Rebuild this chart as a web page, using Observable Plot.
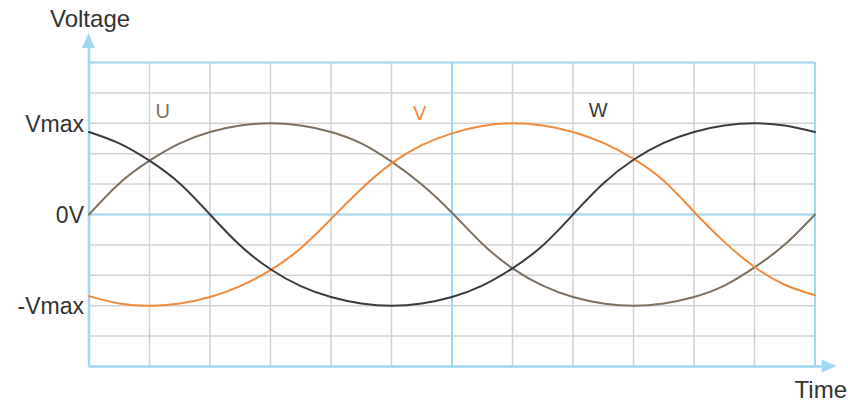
<!DOCTYPE html>
<html>
<head>
<meta charset="utf-8">
<script src="https://cdn.jsdelivr.net/npm/d3@7"></script>
<script src="https://cdn.jsdelivr.net/npm/@observablehq/plot@0.6"></script>
<style>
  html, body { margin: 0; padding: 0; background: #fff; }
  #chart { width: 848px; height: 403px; }
</style>
</head>
<body>
<div id="chart"></div>
<script>
// Phase angle (degrees) of each sample, read every half grid division
const angles = [0,15,30,45,60,75,90,105,120,135,150,165,180,195,210,225,240,255,270,285,300,315,330,345,360];
// Voltage values in units of Vmax
const uValues = [0,0.34,0.59,0.78,0.905,0.975,1,0.975,0.905,0.78,0.58,0.33,0.02,-0.32,-0.59,-0.78,-0.905,-0.975,-1,-0.975,-0.905,-0.78,-0.58,-0.33,0];
const vValues = [-0.895,-0.975,-1,-0.975,-0.905,-0.785,-0.61,-0.37,-0.05,0.28,0.56,0.76,0.89,0.97,1,0.975,0.905,0.785,0.61,0.37,0.03,-0.3,-0.575,-0.77,-0.885];
const wValues = [0.905,0.78,0.59,0.34,0,-0.34,-0.6,-0.785,-0.905,-0.975,-1,-0.975,-0.905,-0.78,-0.59,-0.34,0,0.34,0.6,0.785,0.905,0.975,1,0.975,0.905];

const seriesNames = ["U", "V", "W"];
const seriesColors = ["#7f7060", "#f08a3c", "#3c3c3c"];
// label anchor positions (angle, value)
const labelAngles = [36.5, 164, 252.5];
const labelValues = [1.13, 1.11, 1.14];

const gridX = [0,30,60,90,120,150,180,210,240,270,300,330,360];
const gridY = [-5/3,-4/3,-1,-2/3,-1/3,0,1/3,2/3,1,4/3,5/3];
const blueX = [180, 360];
const blueY = [0, 5/3];
const yTickValues = [1, 0, -1];
const yTickLabels = ["Vmax", "0V", "-Vmax"];

const curves = [uValues, vValues, wValues];
const lineData = [];
curves.forEach((vals, i) => vals.forEach((v, j) => lineData.push({series: seriesNames[i], angle: angles[j], value: v})));
const labelData = seriesNames.map((s, i) => ({series: s, angle: labelAngles[i], value: labelValues[i]}));

const axisBlue = "#9fd8f0";
const gridGray = "#d2d2d2";
const font = "Liberation Sans, Arial, sans-serif";

const plot = Plot.plot({
  width: 848,
  height: 403,
  marginLeft: 88.5,
  marginRight: 33.5,
  marginTop: 62,
  marginBottom: 37,
  style: {fontFamily: font, background: "#fff", overflow: "visible"},
  x: {domain: [0, 360], axis: null},
  y: {domain: [-5/3, 5/3], axis: null},
  color: {domain: seriesNames, range: seriesColors},
  marks: [
    Plot.ruleX(gridX, {stroke: gridGray, strokeWidth: 1.5}),
    Plot.ruleY(gridY, {stroke: gridGray, strokeWidth: 1.5}),
    Plot.ruleX(blueX, {stroke: axisBlue, strokeWidth: 2}),
    Plot.ruleY(blueY, {stroke: axisBlue, strokeWidth: 2}),
    // axes with arrows
    Plot.ruleX([0], {y1: -5/3, y2: 1.86, stroke: axisBlue, strokeWidth: 2.5, clip: false}),
    Plot.ruleY([-5/3], {x1: 0, x2: 364, stroke: axisBlue, strokeWidth: 2.5, clip: false}),
    Plot.line(lineData, {x: "angle", y: "value", z: "series", stroke: "series", strokeWidth: 2, curve: "natural"}),
    Plot.text(labelData, {x: "angle", y: "value", text: "series", fill: "series", fontSize: 20}),
    Plot.text(yTickValues, {x: 0, y: d => d, text: (d, i) => yTickLabels[i], textAnchor: "end", dx: -5, dy: 1, fontSize: 23, fill: "#333"}),
  ]
});

const xs = plot.scale("x"), ys = plot.scale("y");
const svg = d3.select(plot);
// arrowheads
const x0 = xs.apply(0), yTop = ys.apply(1.985);
svg.append("polygon")
  .attr("points", `${x0},${yTop} ${x0-6.5},${yTop+15} ${x0+6.5},${yTop+15}`)
  .attr("fill", axisBlue);
const xRight = xs.apply(371), y0 = ys.apply(-5/3);
svg.append("polygon")
  .attr("points", `${xRight},${y0} ${xRight-15},${y0-6.5} ${xRight-15},${y0+6.5}`)
  .attr("fill", axisBlue);
// axis titles
svg.append("text").attr("x", 50).attr("y", 27).attr("text-anchor", "start").attr("font-size", 24).attr("fill", "#333")
  .attr("font-family", font).text("Voltage");
svg.append("text").attr("x", 847).attr("y", 398).attr("text-anchor", "end").attr("font-size", 24).attr("fill", "#333")
  .attr("font-family", font).text("Time");

document.getElementById("chart").appendChild(plot);
</script>
</body>
</html>
